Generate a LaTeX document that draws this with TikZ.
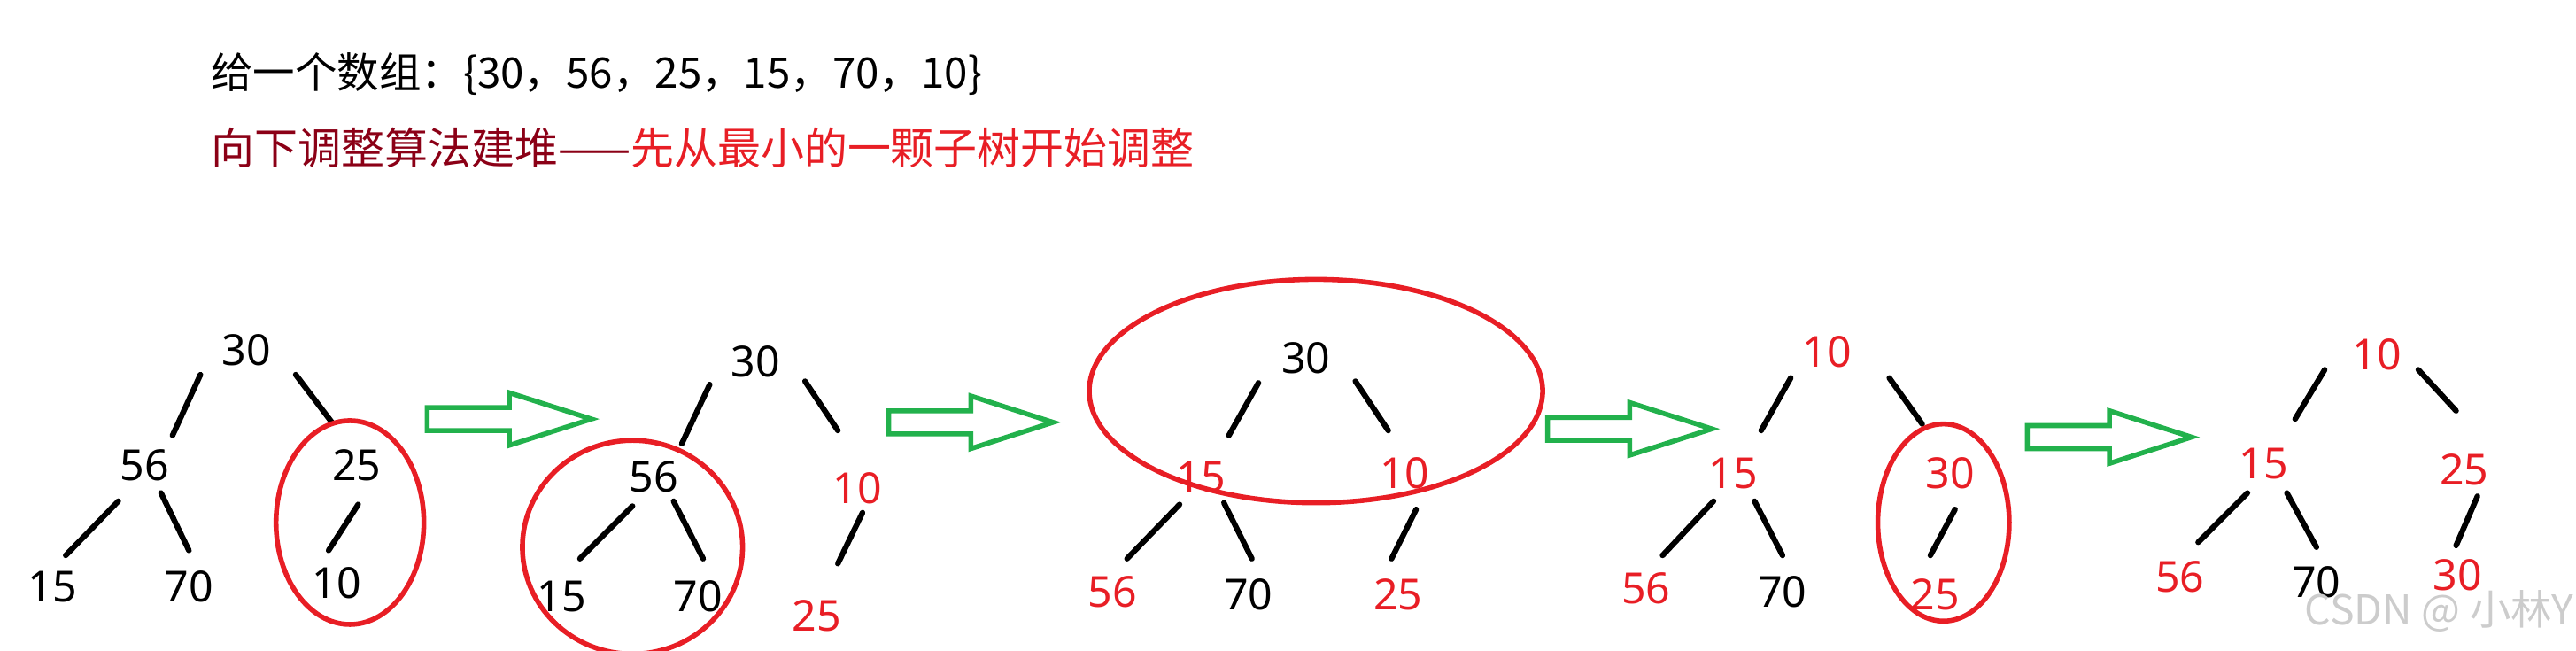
\documentclass[tikz,border=0pt]{standalone}
\usepackage{fontspec}
\setmainfont{Noto Sans}
\newfontfamily\cjk{Noto Sans CJK SC}
\begin{document}
\begin{tikzpicture}[x=0.5pt,y=-0.5pt,
  num/.style={font=\fontsize{13}{13}\selectfont, inner sep=0pt},
  rd/.style={num,text=hred},
  br/.style={line width=1.7pt,line cap=round},
  ring/.style={draw=hred,line width=1.5pt},
  garrow/.style={draw=hgreen,line width=1.5pt}]
\definecolor{hred}{RGB}{232,30,37}
\definecolor{dred}{RGB}{139,0,22}
\definecolor{hgreen}{RGB}{34,177,76}
\useasboundingbox (0,0) rectangle (1568,396);
\node[anchor=west,inner sep=0pt,font=\cjk\fontsize{12.8}{12.8}\selectfont] (t1) at (128,45) {给一个数组：\{30，56，25，15，70，10\}};
\node[anchor=west,inner sep=0pt,font=\cjk\fontsize{13.2}{13.2}\selectfont] (t2) at (128,90) {\textcolor{dred}{向下调整算法建堆——}\textcolor{hred}{先从最小的一颗子树开始调整}};
% arrows
\foreach \x/\y [count=\i] in {260/255,541/257,942/261,1234/266}{
  \draw[garrow] (\x,\y-7) -- (\x+50,\y-7) -- (\x+50,\y-16) -- (\x+100,\y) -- (\x+50,\y+16) -- (\x+50,\y+7) -- (\x,\y+7) -- cycle;
}
% tree 1
\node[num] (a1) at (150,213) {30};
\node[num] (a2) at (88,283) {56};
\node[num] (a3) at (217,283) {25};
\node[num] (a4) at (32,357) {15};
\node[num] (a5) at (115,357) {70};
\node[num] (a6) at (205,355) {10};
\draw[br] (122,228)--(105,265) (180,228)--(202,257) (72,305)--(40,338) (98,300)--(115,335) (218,307)--(200,335);
\draw[ring] (213,318) ellipse (45 and 62);
% tree 2
\node[num] (b1) at (460,220) {30};
\node[num] (b2) at (398,290) {56};
\node[rd] (b3) at (522,297) {10};
\node[num] (b4) at (342,363) {15};
\node[num] (b5) at (425,363) {70};
\node[rd] (b6) at (497,375) {25};
\draw[br] (432,234)--(415,270) (490,232)--(510,262) (385,308)--(353,340) (410,305)--(428,340) (525,312)--(510,343);
\draw[ring] (385,333) ellipse (67 and 65);
% tree 3
\node[num] (c1) at (795,218) {30};
\node[rd] (c2) at (731,290) {15};
\node[rd] (c3) at (855,288) {10};
\node[rd] (c4) at (677,360) {56};
\node[num] (c5) at (760,362) {70};
\node[rd] (c6) at (851,362) {25};
\draw[br] (766,233)--(748,265) (825,232)--(845,262) (718,307)--(686,340) (745,306)--(762,340) (862,310)--(847,340);
\draw[ring] (801,238) ellipse (138 and 68);
% tree 4
\node[rd] (d1) at (1112,214) {10};
\node[rd] (d2) at (1055,288) {15};
\node[rd] (d3) at (1187,288) {30};
\node[rd] (d4) at (1002,358) {56};
\node[num] (d5) at (1085,360) {70};
\node[rd] (d6) at (1178,362) {25};
\draw[br] (1090,230)--(1072,262) (1150,230)--(1170,258) (1043,305)--(1012,338) (1068,305)--(1085,338) (1190,310)--(1175,338);
\draw[ring] (1183,318) ellipse (40 and 60);
% tree 5
\node[rd] (e1) at (1447,216) {10};
\node[rd] (e2) at (1378,282) {15};
\node[rd] (e3) at (1500,286) {25};
\node[rd] (e4) at (1327,351) {56};
\node[num] (e5) at (1410,354) {70};
\node[rd] (e6) at (1496,350) {30};
\draw[br] (1415,225)--(1397,255) (1472,225)--(1495,250) (1368,300)--(1338,330) (1392,300)--(1410,333) (1508,302)--(1495,332);
\node[anchor=east,inner sep=0pt,text=black!20,font=\cjk\fontsize{12.5}{12.5}\selectfont] (wm) at (1567,372) {CSDN @ 小林Y};
\end{tikzpicture}
\end{document}
